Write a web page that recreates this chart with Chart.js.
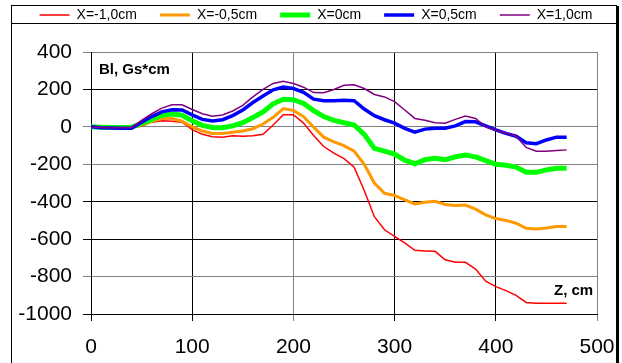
<!DOCTYPE html>
<html>
<head>
<meta charset="utf-8">
<script src="https://cdn.jsdelivr.net/npm/chart.js@4.4.1/dist/chart.umd.min.js"></script>
<style>
  html, body { margin: 0; padding: 0; background: #fff; }
  canvas { display: block; }
</style>
</head>
<body>
<canvas id="chart" width="622" height="363"></canvas>
<script>
// Z positions, cm
const zValues = [0, 10, 20, 30, 40, 50, 60, 70, 80, 90, 100, 110, 120, 130, 140, 150, 160, 170, 180, 190,
  200, 210, 220, 230, 240, 250, 260, 270, 280, 290, 300, 310, 320, 330, 340, 350, 360, 370, 380, 390,
  400, 410, 420, 430, 440, 450, 460, 470];

// Bl, Gs*cm for each X
const blMinus10 = [0, -3, -5, -5, -3, 3, 25, 33, 30, 25, -15, -40, -53, -55, -47, -50, -48, -40, 10, 65,
  65, 20, -46, -105, -140, -170, -215, -340, -480, -550, -585, -620, -660, -663, -665, -710, -724, -724, -760, -825,
  -854, -875, -900, -938, -943, -943, -943, -943];
const blMinus05 = [0, -3, -5, -5, -3, 10, 30, 45, 45, 30, 0, -22, -35, -35, -29, -22, -10, 15, 51, 98,
  88, 55, -2, -55, -80, -100, -130, -200, -300, -355, -367, -390, -412, -403, -398, -415, -420, -418, -440, -470,
  -490, -500, -515, -542, -546, -540, -532, -532];
const bl0 = [0, -2, -3, -3, -2, 18, 40, 62, 68, 62, 32, 8, -3, -5, 5, 22, 50, 80, 123, 148,
  145, 125, 87, 55, 35, 22, 10, -40, -115, -130, -145, -178, -197, -175, -168, -176, -160, -150, -160, -180,
  -200, -205, -215, -243, -243, -230, -221, -221];
const blPlus05 = [0, -5, -6, -7, -8, 25, 55, 80, 91, 90, 64, 40, 31, 38, 60, 90, 130, 165, 198, 213,
  205, 185, 148, 140, 139, 142, 140, 95, 60, 38, 20, -8, -28, -12, -7, -7, 5, 28, 27, 5,
  -16, -35, -50, -85, -90, -70, -55, -55];
const blPlus10 = [0, -3, -5, -5, -3, 35, 70, 100, 118, 118, 93, 70, 57, 63, 85, 115, 160, 200, 232, 244,
  232, 212, 183, 182, 200, 222, 225, 205, 173, 160, 135, 90, 45, 35, 22, 19, 40, 58, 45, 0,
  -18, -33, -50, -110, -130, -130, -126, -123];

const seriesLabels = ["X=-1,0cm", "X=-0,5cm", "X=0cm", "X=0,5cm", "X=1,0cm"];
const seriesValues = [blMinus10, blMinus05, bl0, blPlus05, blPlus10];
const seriesColors = ["#ff0000", "#ff9900", "#00ff00", "#0000ff", "#800080"];
const seriesWidths = [1.5, 3, 5, 3.5, 1.5];

const xTicks = [0, 100, 200, 300, 400, 500];
const yTicks = [-1000, -800, -600, -400, -200, 0, 200, 400];

const FONT = "'Liberation Sans', Arial, sans-serif";

const frame = {
  id: "frame",
  beforeDraw(chart) {
    const ctx = chart.ctx;
    ctx.save();
    ctx.fillStyle = "#fff";
    ctx.fillRect(0, 0, chart.width, chart.height);
    ctx.strokeStyle = "#000";
    ctx.lineWidth = 1;
    ctx.strokeRect(11.5, 5.5, 605, chart.height);
    ctx.beginPath();
    ctx.moveTo(11, 23.5);
    ctx.lineTo(617, 23.5);
    ctx.stroke();
    ctx.lineWidth = 2;
    ctx.beginPath();
    ctx.moveTo(618, 6);
    ctx.lineTo(618, chart.height);
    ctx.stroke();
    ctx.restore();
  },
  afterDraw(chart) {
    const ctx = chart.ctx;
    ctx.save();
    ctx.fillStyle = "#000";
    ctx.font = "bold 15px " + FONT;
    ctx.textBaseline = "middle";
    ctx.fillText("Bl, Gs*cm", 99, 70);
    ctx.fillText("Z, cm", 554, 291);
    ctx.restore();
  },
};

const grayX = [200, 500];
const grayY = [400, 0, -200, -800];

new Chart(document.getElementById("chart"), {
  type: "line",
  data: {
    datasets: seriesLabels.map((label, i) => ({
      label,
      data: zValues.map((z, j) => ({ x: z, y: seriesValues[i][j] })),
      borderColor: seriesColors[i],
      backgroundColor: seriesColors[i],
      borderWidth: seriesWidths[i],
      pointRadius: 0,
      tension: 0,
      order: seriesLabels.length - i,
    })),
  },
  options: {
    responsive: false,
    animation: false,
    devicePixelRatio: 1,
    layout: { padding: { left: 10, right: 0, top: -15, bottom: 0 } },
    plugins: {
      tooltip: { enabled: false },
      title: {
        display: true,
        text: "",
        weight: 500,
        font: { size: 10 },
        padding: { top: 0, bottom: 8 },
      },
      legend: {
        position: "top",
        labels: {
          boxWidth: 30,
          boxHeight: 0,
          padding: 23,
          color: "#000",
          font: { family: FONT, size: 14 },
          sort: (a, b) => a.datasetIndex - b.datasetIndex,
        },
      },
    },
    scales: {
      x: {
        type: "linear",
        min: 0,
        max: 500,
        afterBuildTicks: (s) => { s.ticks = xTicks.map((v) => ({ value: v })); },
        afterFit: (s) => { s.height = 49; s.paddingRight = 25; },
        ticks: {
          color: "#000",
          padding: 14,
          font: { family: FONT, size: 21 },
          callback: (v) => String(v),
        },
        grid: {
          color: (c) => (grayX.includes(c.tick && c.tick.value) ? "#808080" : "#000"),
          tickLength: 7,
        },
        border: { color: "#000" },
      },
      y: {
        min: -1000,
        max: 400,
        afterBuildTicks: (s) => { s.ticks = yTicks.map((v) => ({ value: v })); },
        afterFit: (s) => { s.width = 81; },
        ticks: {
          color: "#000",
          padding: 11,
          font: { family: FONT, size: 21 },
          callback: (v) => String(v),
        },
        grid: {
          color: (c) => (grayY.includes(c.tick && c.tick.value) ? "#808080" : "#000"),
          tickLength: 8,
        },
        border: { color: "#000" },
      },
    },
  },
  plugins: [frame],
});
</script>
</body>
</html>
